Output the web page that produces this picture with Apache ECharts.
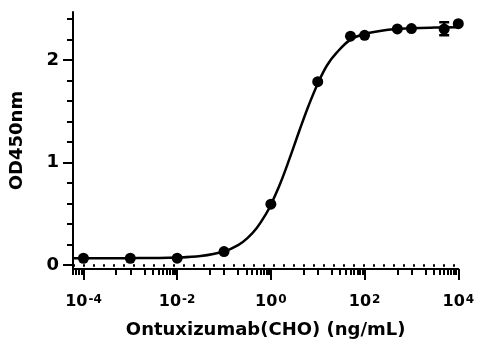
<!DOCTYPE html>
<html>
<head>
<meta charset="utf-8">
<script src="https://cdn.jsdelivr.net/npm/echarts@6/dist/echarts.min.js"></script>
<style>
  html, body { margin: 0; padding: 0; background: #fff; }
  #chart { width: 489px; height: 346px; }
</style>
</head>
<body>
<div id="chart"></div>
<script>
// measured points (ng/mL, OD450)
var conc = [1e-4, 1e-3, 1e-2, 0.1, 1, 10, 50, 100, 500, 1000, 5000, 10000];
var od = [0.065, 0.065, 0.066, 0.13, 0.593, 1.79, 2.234, 2.242, 2.305, 2.308, 2.303, 2.356];

// error bar (only visible one)
var errConc = [5000];
var errLow = [2.243];
var errHigh = [2.37];

// fitted curve
var fitConc = [6e-5, 1e-4, 1e-3, 1e-2, 0.0316, 0.1, 0.2, 0.316, 0.5, 0.794, 1, 1.585, 2.512, 3.981, 6.31, 10, 15.85, 25.12, 50, 100, 316, 1000, 3162, 10000];
var fitOd = [0.065, 0.065, 0.066, 0.072, 0.086, 0.131, 0.193, 0.262, 0.361, 0.501, 0.588, 0.795, 1.04, 1.30, 1.55, 1.77, 1.95, 2.07, 2.20, 2.255, 2.297, 2.312, 2.318, 2.32];

// axis ticks
var xMajor = [1e-4, 1e-2, 1, 100, 10000];
var xMinor = [6e-5, 7e-5, 8e-5, 9e-5, 5e-4, 1e-3, 2e-3, 3e-3, 4e-3, 5e-3, 6e-3, 7e-3, 8e-3, 9e-3,
              5e-2, 0.1, 0.2, 0.3, 0.4, 0.5, 0.6, 0.7, 0.8, 0.9, 5, 10, 20, 30, 40, 50, 60, 70, 80, 90,
              500, 1000, 2000, 3000, 4000, 5000, 6000, 7000, 8000, 9000];
var yMajor = [0, 1, 2];
var yMinor = [0.2, 0.4, 0.6, 0.8, 1.2, 1.4, 1.6, 1.8, 2.2, 2.4];

function lg(v) { return Math.log10(v); }

var font = 'DejaVu Sans';
var xMin = lg(6e-5) - 0.001;

var chart = echarts.init(document.getElementById('chart'), null, { renderer: 'canvas' });

var option = {
    animation: false,
    grid: { left: 72.7, right: 30.7, top: 12, bottom: 77 },
    xAxis: [{
        type: 'value',
        min: xMin,
        max: 4,
        name: 'Ontuxizumab(CHO) (ng/mL)',
        nameLocation: 'middle',
        nameGap: 50,
        nameTextStyle: { fontFamily: font, fontWeight: 'bold', fontSize: 18, color: '#000' },
        axisLine: { onZero: false, lineStyle: { color: '#000', width: 2 } },
        axisTick: { customValues: xMajor.map(lg), length: 11, lineStyle: { color: '#000', width: 2 } },
        axisLabel: {
            customValues: xMajor.map(lg),
            margin: 25,
            formatter: function (v) {
                return '{b|10}{s|' + Math.round(v) + '}';
            },
            rich: {
                b: { fontFamily: font, fontWeight: 'bold', fontSize: 16, lineHeight: 16, color: '#000', verticalAlign: 'bottom' },
                s: { fontFamily: font, fontWeight: 'bold', fontSize: 12, lineHeight: 12, padding: [0, 0, 10, 1], color: '#000', verticalAlign: 'top' }
            }
        },
        splitLine: { show: false }
    }, {
        type: 'value',
        min: xMin,
        max: 4,
        position: 'bottom',
        axisLine: { show: false, onZero: false },
        axisTick: { customValues: xMinor.map(lg), length: 6, lineStyle: { color: '#000', width: 2 } },
        axisLabel: { show: false },
        splitLine: { show: false }
    }],
    yAxis: [{
        type: 'value',
        min: -0.04,
        max: 2.47,
        name: 'OD450nm',
        nameLocation: 'middle',
        nameGap: 47,
        nameTextStyle: { fontFamily: font, fontWeight: 'bold', fontSize: 18, color: '#000' },
        axisLine: { onZero: false, lineStyle: { color: '#000', width: 2 } },
        axisTick: { customValues: yMajor, length: 10, lineStyle: { color: '#000', width: 2 } },
        axisLabel: {
            customValues: yMajor,
            margin: 14,
            fontFamily: font, fontWeight: 'bold', fontSize: 18, color: '#000'
        },
        splitLine: { show: false }
    }, {
        type: 'value',
        min: -0.04,
        max: 2.47,
        position: 'left',
        axisLine: { show: false, onZero: false },
        axisTick: { customValues: yMinor, length: 6, lineStyle: { color: '#000', width: 2 } },
        axisLabel: { show: false },
        splitLine: { show: false }
    }],
    series: [{
        // fitted curve
        type: 'line',
        data: fitConc.map(function (c, i) { return [lg(c), fitOd[i]]; }),
        smooth: 0.4,
        showSymbol: false,
        lineStyle: { color: '#000', width: 2.5 },
        markLine: {
            silent: true,
            symbol: 'none',
            label: { show: false },
            lineStyle: { color: '#000', width: 2.5, type: [2, 8], opacity: 1 },
            data: [{ yAxis: 0 }]
        },
        z: 2
    }, {
        // error bar
        type: 'custom',
        data: errConc.map(function (c, i) { return [lg(c), errLow[i], errHigh[i]]; }),
        renderItem: function (params, api) {
            var lo = api.coord([api.value(0), api.value(1)]);
            var hi = api.coord([api.value(0), api.value(2)]);
            var w = 5;
            var st = { stroke: '#000', lineWidth: 2.5 };
            return {
                type: 'group',
                children: [
                    { type: 'line', shape: { x1: lo[0], y1: lo[1], x2: hi[0], y2: hi[1] }, style: st },
                    { type: 'line', shape: { x1: lo[0] - w, y1: lo[1], x2: lo[0] + w, y2: lo[1] }, style: st },
                    { type: 'line', shape: { x1: hi[0] - w, y1: hi[1], x2: hi[0] + w, y2: hi[1] }, style: st }
                ]
            };
        },
        z: 3
    }, {
        // data points
        type: 'scatter',
        data: conc.map(function (c, i) { return [lg(c), od[i]]; }),
        symbol: 'circle',
        symbolSize: 11,
        itemStyle: { color: '#000', opacity: 1 },
        z: 4
    }]
};
chart.setOption(option);
</script>
</body>
</html>
